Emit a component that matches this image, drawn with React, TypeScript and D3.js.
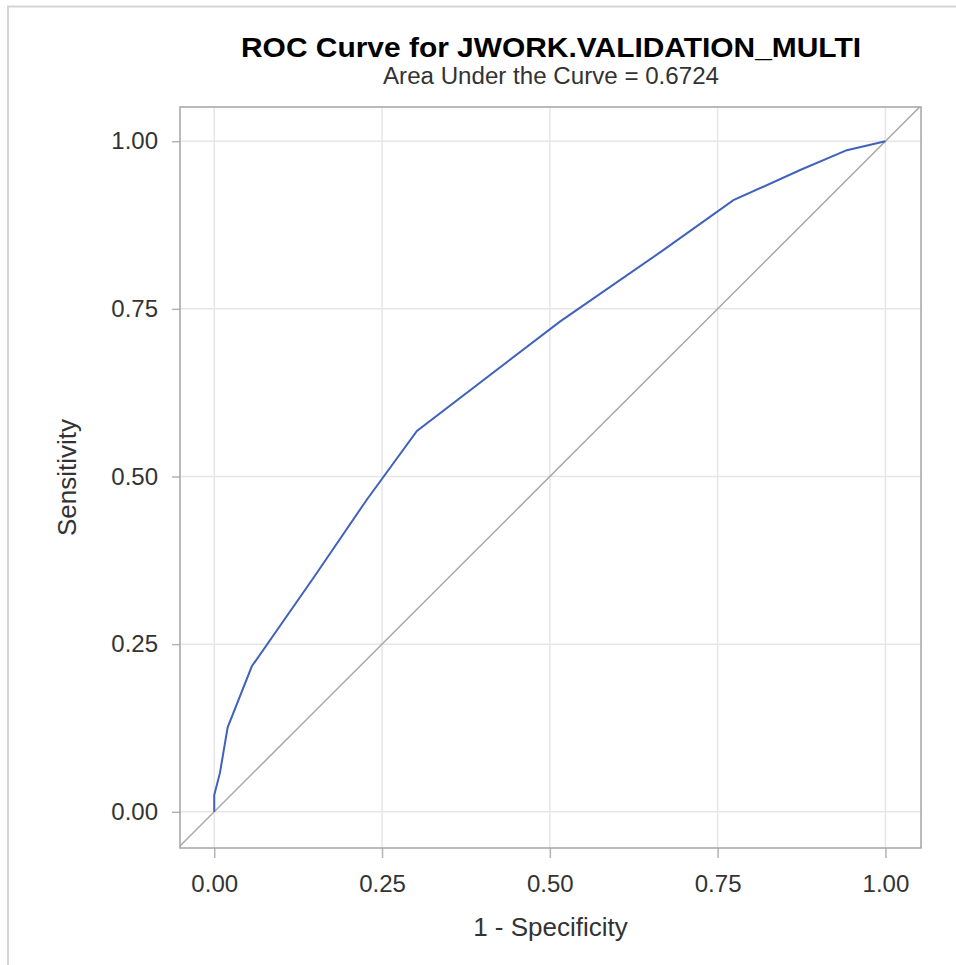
import { useEffect, useRef } from "react";
import * as d3 from "d3";

// ROC curve points
const fpr = [0, 0, 0.0085, 0.02, 0.056, 0.15, 0.227, 0.302, 0.515, 0.669, 0.7735, 0.873, 0.9425, 1];
const tpr = [0, 0.025, 0.058, 0.126, 0.217, 0.352, 0.465, 0.568, 0.731, 0.8375, 0.912, 0.957, 0.9866, 1];
const tickValues = [0, 0.25, 0.5, 0.75, 1];

const titleText = "ROC Curve for JWORK.VALIDATION_MULTI";
const subtitleText = "Area Under the Curve = 0.6724";
const xLabel = "1 - Specificity";
const yLabel = "Sensitivity";

const W = 956;
const H = 965;
const font = "'Liberation Sans', Arial, sans-serif";

export default function App() {
  const ref = useRef<SVGSVGElement | null>(null);

  useEffect(() => {
    const svg = d3.select(ref.current);
    svg.selectAll("*").remove();

    const left = 180, right = 921, top = 107, bottom = 848;
    const x = d3.scaleLinear().domain([-0.051, 1.053]).range([left, right]);
    const y = d3.scaleLinear().domain([-0.054, 1.051]).range([bottom, top]);

    // outer border (only top/left visible)
    svg.append("line").attr("x1", 8).attr("x2", 8).attr("y1", 6).attr("y2", H)
      .attr("stroke", "#d4d4d4").attr("stroke-width", 2);
    svg.append("line").attr("x1", 7).attr("x2", W).attr("y1", 6.5).attr("y2", 6.5)
      .attr("stroke", "#d4d4d4").attr("stroke-width", 2);

    // titles
    svg.append("text").attr("x", 551).attr("y", 57).attr("text-anchor", "middle")
      .attr("font-family", font).attr("font-weight", "bold").attr("font-size", 28)
      .attr("textLength", 620).attr("lengthAdjust", "spacingAndGlyphs")
      .attr("fill", "#000").text(titleText);
    svg.append("text").attr("x", 551).attr("y", 84).attr("text-anchor", "middle")
      .attr("font-family", font).attr("font-size", 23)
      .attr("textLength", 336).attr("lengthAdjust", "spacingAndGlyphs")
      .attr("fill", "#333").text(subtitleText);

    // grid
    const grid = svg.append("g").attr("stroke", "#e6e6e6").attr("stroke-width", 1.5);
    tickValues.forEach((t) => {
      grid.append("line").attr("x1", x(t)).attr("x2", x(t)).attr("y1", top).attr("y2", bottom);
      grid.append("line").attr("x1", left).attr("x2", right).attr("y1", y(t)).attr("y2", y(t));
    });

    // axes
    const xAxis = svg.append("g").attr("transform", `translate(0,${bottom})`)
      .call(d3.axisBottom(x).tickValues(tickValues).tickFormat(d3.format(".2f")).tickSize(10).tickPadding(17));
    const yAxis = svg.append("g").attr("transform", `translate(${left},0)`)
      .call(d3.axisLeft(y).tickValues(tickValues).tickFormat(d3.format(".2f")).tickSize(8).tickPadding(14));
    [xAxis, yAxis].forEach((a) => {
      a.select(".domain").remove();
      a.selectAll("line").attr("stroke", "#b4b4b4").attr("stroke-width", 1.5);
      a.selectAll("text").attr("font-family", font).attr("font-size", 24).attr("fill", "#333");
    });

    // clip to the plot frame
    svg.append("clipPath").attr("id", "frame").append("rect")
      .attr("x", left).attr("y", top).attr("width", right - left).attr("height", bottom - top);

    // diagonal reference
    svg.append("line").attr("clip-path", "url(#frame)")
      .attr("x1", x(-0.1)).attr("y1", y(-0.1)).attr("x2", x(1.1)).attr("y2", y(1.1))
      .attr("stroke", "#a8a8a8").attr("stroke-width", 1.5);

    // ROC curve
    const pts = fpr.map((f, i) => [f, tpr[i]] as [number, number]);
    svg.append("path").datum(pts)
      .attr("fill", "none").attr("stroke", "#4062bd").attr("stroke-width", 2)
      .attr("d", d3.line<[number, number]>().x((d) => x(d[0])).y((d) => y(d[1])));

    // frame
    svg.append("rect").attr("x", left).attr("y", top)
      .attr("width", right - left).attr("height", bottom - top)
      .attr("fill", "none").attr("stroke", "#a4a4a4").attr("stroke-width", 1.5);

    // axis labels
    svg.append("text").attr("x", (left + right) / 2).attr("y", 936).attr("text-anchor", "middle")
      .attr("font-family", font).attr("font-size", 26).attr("fill", "#333").text(xLabel);
    svg.append("text").attr("transform", `translate(76,${(top + bottom) / 2}) rotate(-90)`)
      .attr("text-anchor", "middle")
      .attr("font-family", font).attr("font-size", 26).attr("fill", "#333").text(yLabel);
  }, []);

  return (
    <svg ref={ref} width={W} height={H}
      style={{ position: "absolute", top: 0, left: 0, background: "#fff" }} />
  );
}
